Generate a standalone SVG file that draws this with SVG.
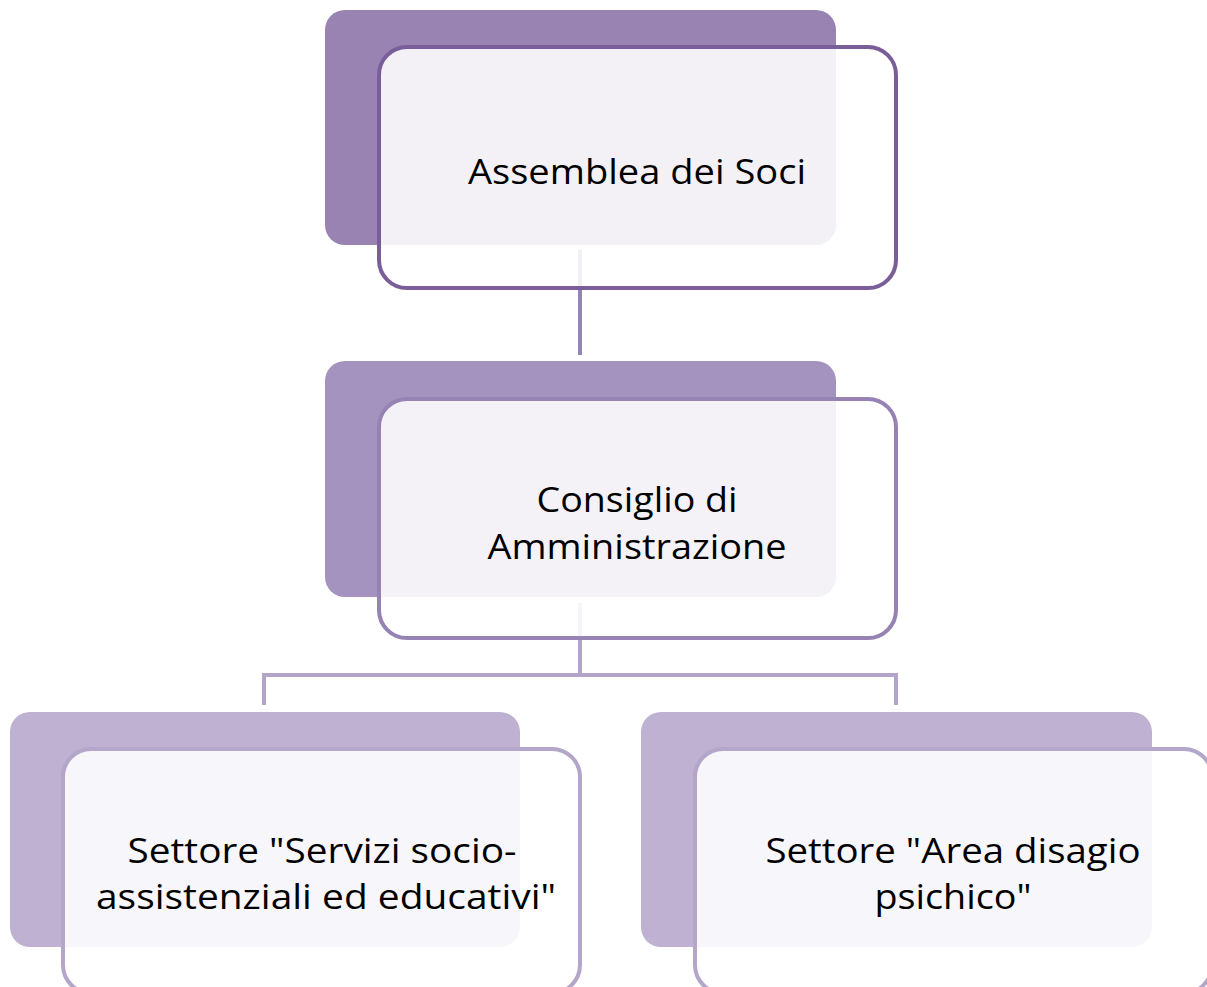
<svg xmlns="http://www.w3.org/2000/svg" width="1207" height="987" viewBox="0 0 1207 987">
<style>
.front{fill:#ffffff;fill-opacity:0.88;stroke-width:4}
.lbl{font-family:"Open Sans","Liberation Sans",sans-serif;font-size:35px;fill:#000;text-anchor:middle}
.conn{fill:none;stroke-width:4}
</style>
<rect width="1207" height="987" fill="#ffffff"/>
<g id="connectors">
<line class="conn" x1="580" y1="250" x2="580" y2="355" stroke="#9683b3"/>
<path class="conn" d="M580 603 V675 M264 705 V675 H896 V705" stroke="#b3a5c9"/>
</g>
<g id="node1">
<rect x="325" y="10" width="511" height="235" rx="20" fill="#9983b2"/>
<rect class="front" x="379" y="47" width="517" height="241" rx="28" stroke="#7a5e9a"/>
<text class="lbl" x="637" y="184" textLength="338" lengthAdjust="spacingAndGlyphs">Assemblea dei Soci</text>
</g>
<g id="node2">
<rect x="325" y="361" width="511" height="236" rx="20" fill="#a593bf"/>
<rect class="front" x="379" y="399" width="517" height="239" rx="28" stroke="#9683b3"/>
<text class="lbl" x="637" y="512" textLength="201" lengthAdjust="spacingAndGlyphs">Consiglio di</text>
<text class="lbl" x="637" y="559" textLength="299" lengthAdjust="spacingAndGlyphs">Amministrazione</text>
</g>
<g id="node3">
<rect x="10" y="712" width="510" height="235" rx="20" fill="#bfb1d1"/>
<rect class="front" x="63" y="749" width="517" height="244" rx="28" stroke="#b3a6c9"/>
<text class="lbl" x="322" y="863" textLength="389" lengthAdjust="spacingAndGlyphs">Settore "Servizi socio-</text>
<text class="lbl" x="326" y="909" textLength="460" lengthAdjust="spacingAndGlyphs">assistenziali ed educativi"</text>
</g>
<g id="node4">
<rect x="641" y="712" width="511" height="235" rx="20" fill="#bfb1d1"/>
<rect class="front" x="695" y="749" width="517" height="244" rx="28" stroke="#b3a6c9"/>
<text class="lbl" x="953" y="863" textLength="375" lengthAdjust="spacingAndGlyphs">Settore "Area disagio</text>
<text class="lbl" x="953" y="909" textLength="157" lengthAdjust="spacingAndGlyphs">psichico"</text>
</g>
</svg>
